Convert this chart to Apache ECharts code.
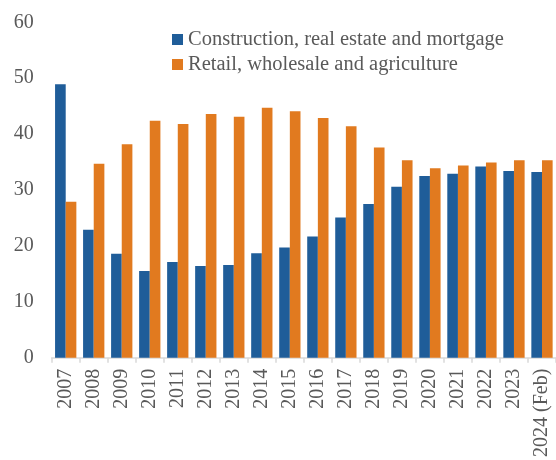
<!DOCTYPE html>
<html>
<head>
<meta charset="utf-8">
<script src="https://cdn.jsdelivr.net/npm/echarts@6/dist/echarts.min.js"></script>
<style>
html,body{margin:0;padding:0;background:#fff;}
#c{width:556px;height:460px;}
</style>
</head>
<body>
<div id="c"></div>
<script>
var categories = ['2007','2008','2009','2010','2011','2012','2013','2014','2015','2016','2017','2018','2019','2020','2021','2022','2023','2024 (Feb)'];
var construction = [48.9,22.9,18.6,15.5,17.1,16.4,16.6,18.7,19.7,21.7,25.1,27.5,30.6,32.5,32.9,34.2,33.4,33.2];
var retail = [27.9,34.7,38.2,42.4,41.8,43.6,43.1,44.7,44.1,42.9,41.4,37.6,35.3,33.9,34.4,34.9,35.3,35.3];
var yTicks = [0,10,20,30,40,50,60];

var font = 'Liberation Serif';
var chart = echarts.init(document.getElementById('c'), null, {renderer:'canvas'});
chart.setOption({
  animation:false,
  backgroundColor:'#ffffff',
  textStyle:{fontFamily:font},
  legend:{
    orient:'vertical',
    left:167,
    top:24,
    padding:5,
    itemWidth:11,
    itemHeight:11,
    itemGap:4,
    icon:'rect',
    textStyle:{fontFamily:font,fontSize:20.5,color:'#595959',lineHeight:20},
    data:['Construction, real estate and mortgage','Retail, wholesale and agriculture']
  },
  grid:{left:51.7,top:22.3,width:510,bottom:97.7,containLabel:false},
  xAxis:{
    type:'category',
    data:categories,
    boundaryGap:true,
    axisLine:{show:true,lineStyle:{color:'#D9D9D9',width:1.5}},
    axisTick:{show:true,alignWithLabel:false,length:5,lineStyle:{color:'#D9D9D9',width:1.5}},
    axisLabel:{rotate:90,interval:0,fontFamily:font,fontSize:20,color:'#595959',margin:11}
  },
  yAxis:{
    type:'value',
    min:yTicks[0],
    max:yTicks[yTicks.length-1],
    interval:10,
    axisLine:{show:false},
    axisTick:{show:false},
    splitLine:{show:false},
    axisLabel:{fontFamily:font,fontSize:20,color:'#595959',margin:18,padding:[3,0,0,0]}
  },
  series:[
    {name:'Construction, real estate and mortgage',type:'bar',data:construction,itemStyle:{color:'#1F5D99'},barGap:'0%',barCategoryGap:'24%'},
    {name:'Retail, wholesale and agriculture',type:'bar',data:retail,itemStyle:{color:'#E17A1F'},barGap:'0%',barCategoryGap:'24%'}
  ]
});
</script>
</body>
</html>
